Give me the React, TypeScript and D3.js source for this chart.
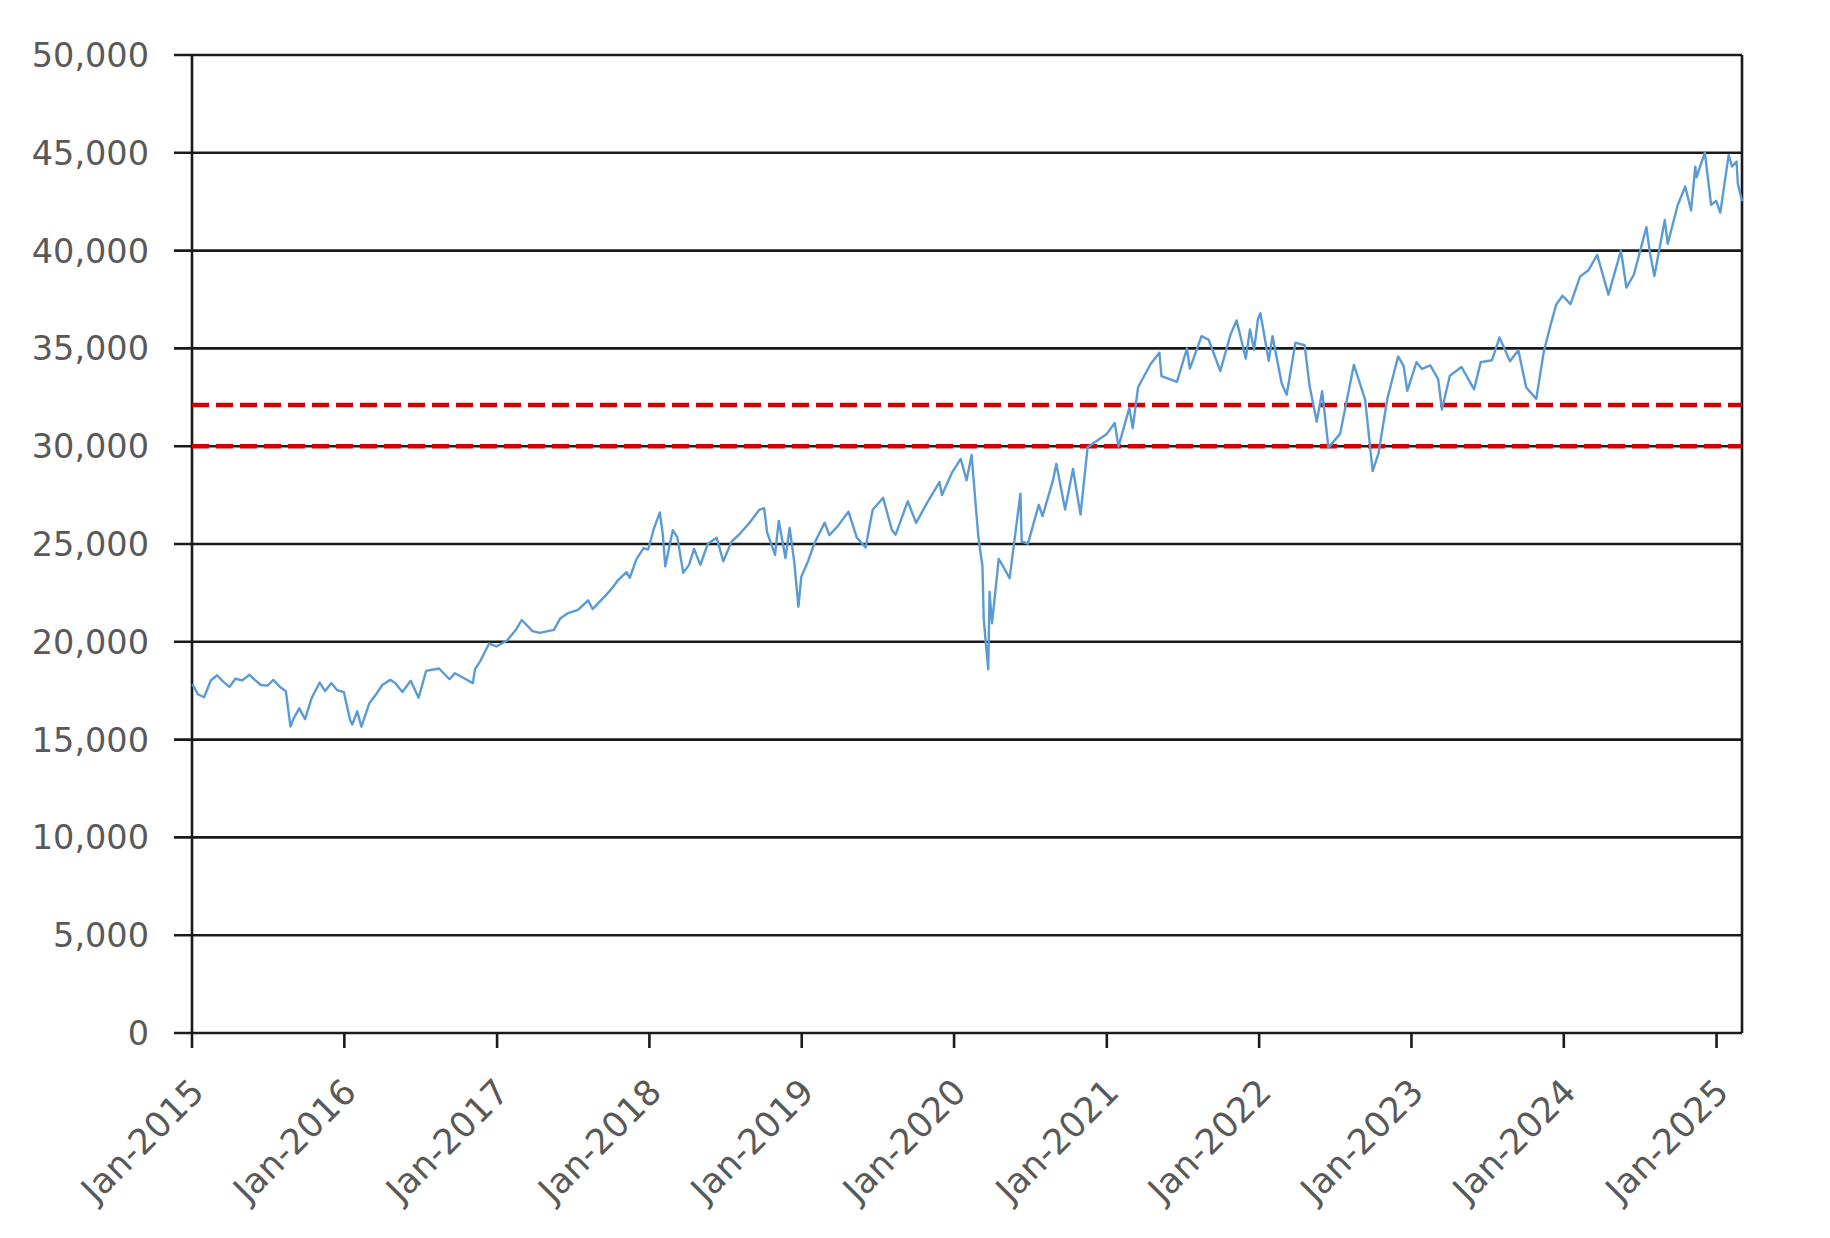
import { useMemo } from "react"
import * as d3 from "d3"

// Index closes (roughly twice a month, plus the turning points)
const y2015: [string, number][] = [
  ["2015-01-02", 17833], ["2015-01-15", 17320], ["2015-01-30", 17165], ["2015-02-15", 18020],
  ["2015-03-02", 18288], ["2015-03-16", 17977], ["2015-04-01", 17698], ["2015-04-15", 18112],
  ["2015-05-01", 18024], ["2015-05-19", 18312], ["2015-06-01", 18040], ["2015-06-15", 17791],
  ["2015-07-01", 17757], ["2015-07-15", 18050], ["2015-07-31", 17690], ["2015-08-14", 17477],
  ["2015-08-25", 15666], ["2015-09-01", 16058], ["2015-09-15", 16599], ["2015-09-29", 16049],
  ["2015-10-15", 17141], ["2015-11-03", 17918], ["2015-11-16", 17483], ["2015-12-01", 17888],
  ["2015-12-15", 17524], ["2015-12-31", 17425],
]
const y2016: [string, number][] = [
  ["2016-01-15", 15988], ["2016-01-20", 15766], ["2016-02-01", 16449], ["2016-02-11", 15660],
  ["2016-03-01", 16865], ["2016-03-15", 17251], ["2016-04-01", 17792], ["2016-04-20", 18053],
  ["2016-05-02", 17891], ["2016-05-19", 17435], ["2016-06-08", 18005], ["2016-06-27", 17140],
  ["2016-07-15", 18517], ["2016-08-15", 18636], ["2016-09-09", 18085], ["2016-09-22", 18392],
  ["2016-10-14", 18138], ["2016-11-04", 17888], ["2016-11-09", 18589], ["2016-11-22", 19024],
  ["2016-12-13", 19911], ["2016-12-30", 19763],
]
const y2017: [string, number][] = [
  ["2017-01-25", 20068], ["2017-02-15", 20611], ["2017-03-01", 21115], ["2017-03-27", 20550],
  ["2017-04-13", 20453], ["2017-05-17", 20606], ["2017-06-02", 21206], ["2017-06-20", 21467],
  ["2017-07-14", 21637], ["2017-08-07", 22118], ["2017-08-18", 21674], ["2017-09-01", 21988],
  ["2017-09-20", 22412], ["2017-10-05", 22775], ["2017-10-18", 23157], ["2017-11-07", 23557],
  ["2017-11-15", 23271], ["2017-12-01", 24231], ["2017-12-18", 24792], ["2017-12-29", 24719],
]
const y2018: [string, number][] = [
  ["2018-01-12", 25803], ["2018-01-26", 26616], ["2018-02-02", 25521], ["2018-02-08", 23860],
  ["2018-02-26", 25709], ["2018-03-09", 25336], ["2018-03-23", 23533], ["2018-04-06", 23933],
  ["2018-04-18", 24748], ["2018-05-03", 23930], ["2018-05-21", 25013], ["2018-06-11", 25322],
  ["2018-06-27", 24117], ["2018-07-17", 25120], ["2018-08-03", 25463], ["2018-08-28", 26064],
  ["2018-09-21", 26743], ["2018-10-03", 26828], ["2018-10-10", 25598], ["2018-10-29", 24443],
  ["2018-11-07", 26180], ["2018-11-23", 24286], ["2018-12-03", 25826], ["2018-12-14", 24101],
  ["2018-12-24", 21792], ["2018-12-31", 23327],
]
const y2019: [string, number][] = [
  ["2019-01-15", 24065], ["2019-02-01", 25064], ["2019-02-25", 26091], ["2019-03-08", 25450],
  ["2019-03-29", 25929], ["2019-04-23", 26656], ["2019-05-13", 25324], ["2019-06-03", 24819],
  ["2019-06-20", 26753], ["2019-07-15", 27359], ["2019-08-05", 25718], ["2019-08-14", 25479],
  ["2019-09-12", 27182], ["2019-10-02", 26079], ["2019-10-28", 27090], ["2019-11-27", 28164],
  ["2019-12-03", 27503], ["2019-12-27", 28645],
]
const y2020: [string, number][] = [
  ["2020-01-17", 29348], ["2020-01-31", 28256], ["2020-02-12", 29551], ["2020-02-28", 25409],
  ["2020-03-09", 23851], ["2020-03-12", 21200], ["2020-03-16", 20188], ["2020-03-23", 18592],
  ["2020-03-26", 22552], ["2020-04-01", 20943], ["2020-04-17", 24242], ["2020-05-01", 23723],
  ["2020-05-13", 23247], ["2020-06-08", 27572], ["2020-06-11", 25128], ["2020-06-26", 25016],
  ["2020-07-22", 27005], ["2020-07-31", 26428], ["2020-08-25", 28249], ["2020-09-02", 29100],
  ["2020-09-23", 26763], ["2020-10-12", 28837], ["2020-10-30", 26502], ["2020-11-16", 29950],
  ["2020-12-04", 30218], ["2020-12-31", 30606],
]
const y2021: [string, number][] = [
  ["2021-01-20", 31188], ["2021-01-29", 29983], ["2021-02-24", 31961], ["2021-03-04", 30924],
  ["2021-03-17", 33015], ["2021-04-16", 34200], ["2021-05-07", 34778], ["2021-05-12", 33587],
  ["2021-06-18", 33290], ["2021-07-12", 34996], ["2021-07-19", 33962], ["2021-08-16", 35625],
  ["2021-09-02", 35443], ["2021-09-30", 33844], ["2021-10-25", 35741], ["2021-11-08", 36432],
  ["2021-11-30", 34483], ["2021-12-10", 35970], ["2021-12-20", 34932], ["2021-12-29", 36488],
]
const y2022: [string, number][] = [
  ["2022-01-04", 36799], ["2022-01-24", 34365], ["2022-02-02", 35629], ["2022-02-24", 33223],
  ["2022-03-08", 32632], ["2022-03-29", 35294], ["2022-04-20", 35160], ["2022-05-02", 33061],
  ["2022-05-19", 31253], ["2022-06-01", 32813], ["2022-06-16", 29927], ["2022-07-14", 30630],
  ["2022-08-16", 34152], ["2022-09-12", 32381], ["2022-09-30", 28726], ["2022-10-14", 29634],
  ["2022-11-04", 32403], ["2022-11-30", 34590], ["2022-12-13", 34108], ["2022-12-22", 32832],
]
const y2023: [string, number][] = [
  ["2023-01-13", 34303], ["2023-01-26", 33949], ["2023-02-15", 34128], ["2023-03-06", 33431],
  ["2023-03-15", 31874], ["2023-04-03", 33601], ["2023-05-01", 34051], ["2023-05-31", 32908],
  ["2023-06-16", 34299], ["2023-07-13", 34395], ["2023-07-31", 35559], ["2023-08-25", 34346],
  ["2023-09-14", 34907], ["2023-10-03", 33002], ["2023-10-27", 32418], ["2023-11-14", 34828],
  ["2023-12-01", 36246], ["2023-12-14", 37248], ["2023-12-29", 37690],
]
const y2024: [string, number][] = [
  ["2024-01-17", 37267], ["2024-02-09", 38671], ["2024-02-29", 38996], ["2024-03-21", 39781],
  ["2024-04-17", 37753], ["2024-05-17", 40003], ["2024-05-30", 38111], ["2024-06-17", 38778],
  ["2024-07-17", 41198], ["2024-07-25", 39935], ["2024-08-05", 38703], ["2024-08-30", 41563],
  ["2024-09-06", 40345], ["2024-09-30", 42330], ["2024-10-18", 43275], ["2024-11-01", 42052],
  ["2024-11-11", 44293], ["2024-11-14", 43750], ["2024-12-04", 45014], ["2024-12-19", 42342],
  ["2024-12-31", 42544],
]
const y2025: [string, number][] = [
  ["2025-01-10", 41938], ["2025-01-30", 44882], ["2025-02-07", 44303], ["2025-02-18", 44556],
  ["2025-02-21", 43428], ["2025-03-03", 42520],
]

const yTicks = [0, 5000, 10000, 15000, 20000, 25000, 30000, 35000, 40000, 45000, 50000]
const xTickLabels = [
  "Jan-2015", "Jan-2016", "Jan-2017", "Jan-2018", "Jan-2019", "Jan-2020",
  "Jan-2021", "Jan-2022", "Jan-2023", "Jan-2024", "Jan-2025",
]
const refLevels = [32100, 30000]
const dateRange = ["2015-01-01", "2025-03-03"]

const W = 1830
const H = 1238
const margin = { top: 55, right: 88, bottom: 205, left: 192 }
const font = "'DejaVu Sans', sans-serif"

export default function App() {
  const parse = d3.timeParse("%Y-%m-%d")
  const parseLabel = d3.timeParse("%b-%Y")

  const series = useMemo(
    () =>
      [y2015, y2016, y2017, y2018, y2019, y2020, y2021, y2022, y2023, y2024, y2025]
        .flat()
        .map(([d, v]) => ({ date: parse(d) as Date, value: v })),
    []
  )

  const x = d3
    .scaleTime()
    .domain(dateRange.map((d) => parse(d) as Date))
    .range([margin.left, W - margin.right])
  const y = d3.scaleLinear().domain([0, 50000]).range([H - margin.bottom, margin.top])

  const line = d3
    .line<{ date: Date; value: number }>()
    .x((d) => x(d.date))
    .y((d) => y(d.value))

  const fmt = d3.format(",")
  const x0 = margin.left
  const x1 = W - margin.right
  const yBottom = H - margin.bottom

  return (
    <svg width={W} height={H} style={{ position: "absolute", left: 0, top: 0, background: "#fff" }}>
      {/* horizontal grid + y ticks */}
      {yTicks.map((t) => (
        <g key={t}>
          <line x1={x0 - 18} x2={x1} y1={y(t)} y2={y(t)} stroke="#1a1a1a" strokeWidth={2.6} />
          <text
            x={149}
            y={y(t)}
            dy="0.36em"
            textAnchor="end"
            fontFamily={font}
            fontSize={33.5}
            fill="#595959"
          >
            {fmt(t)}
          </text>
        </g>
      ))}

      {/* axes frame */}
      <line x1={x0} x2={x0} y1={margin.top} y2={yBottom} stroke="#1a1a1a" strokeWidth={2.6} />
      <line x1={x1} x2={x1} y1={margin.top} y2={yBottom} stroke="#1a1a1a" strokeWidth={2.6} />

      {/* x ticks */}
      {xTickLabels.map((lbl) => {
        const xp = x(parseLabel(lbl) as Date)
        return (
          <g key={lbl}>
            <line x1={xp} x2={xp} y1={yBottom} y2={yBottom + 15} stroke="#1a1a1a" strokeWidth={2.6} />
            <text
              transform={`translate(${xp + 14},${yBottom + 61}) rotate(-45)`}
              textAnchor="end"
              fontFamily={font}
              fontSize={35}
              fill="#595959"
            >
              {lbl}
            </text>
          </g>
        )
      })}

      {/* reference levels */}
      {refLevels.map((r) => (
        <line
          key={r}
          x1={x0}
          x2={x1}
          y1={y(r)}
          y2={y(r)}
          stroke="#d40000"
          strokeWidth={4.5}
          strokeDasharray="17 7"
        />
      ))}

      <path d={line(series) ?? ""} fill="none" stroke="#5b9bd5" strokeWidth={2.4} strokeLinejoin="round" />
    </svg>
  )
}
